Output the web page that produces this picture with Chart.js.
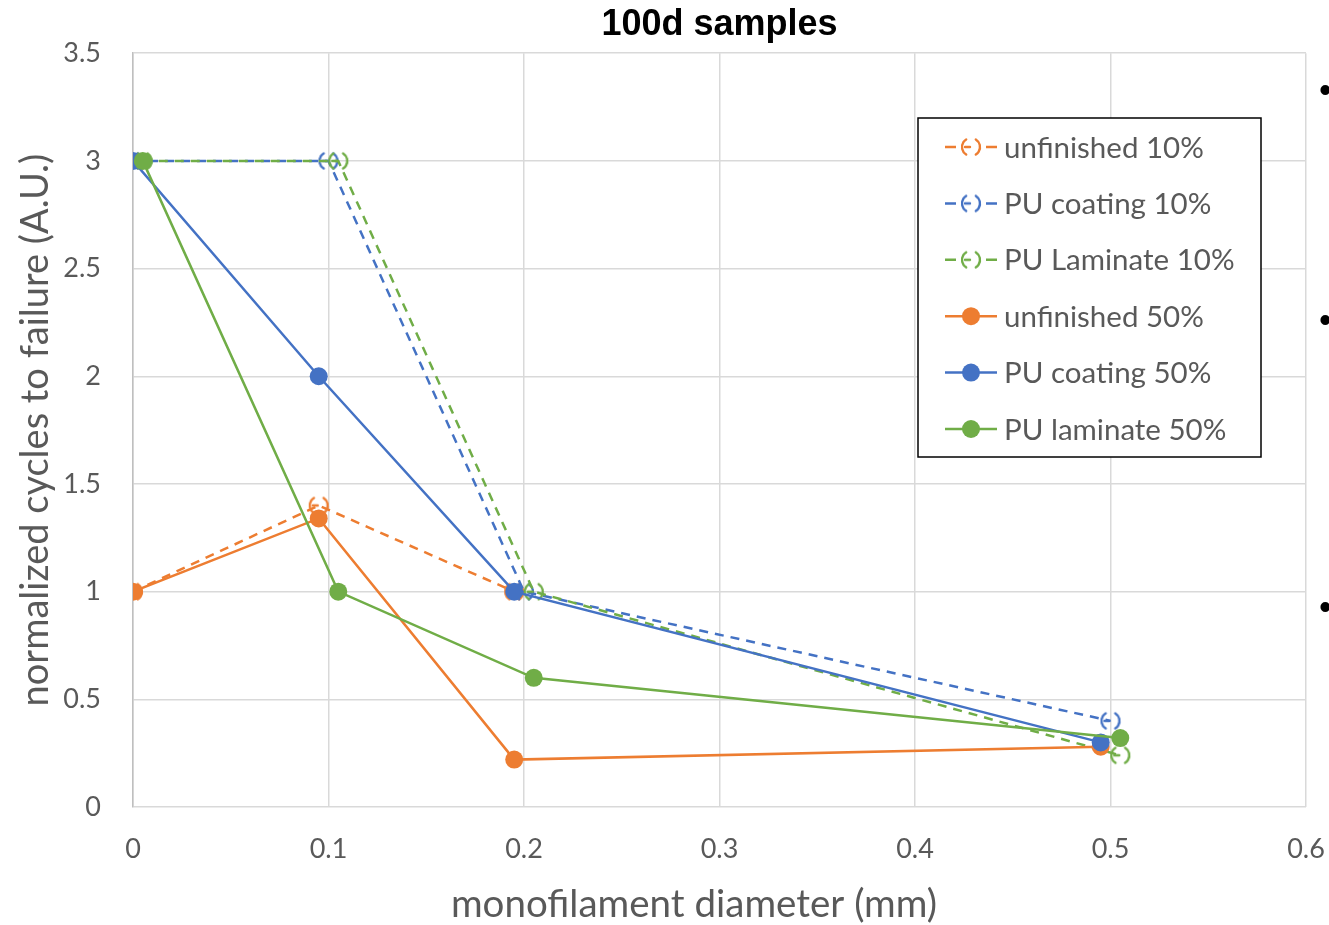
<!DOCTYPE html>
<html>
<head>
<meta charset="utf-8">
<script src="https://cdn.jsdelivr.net/npm/chart.js@4"></script>
<style>
  body { margin: 0; background: #fff; }
  #wrap { position: relative; width: 1329px; height: 925px; overflow: hidden; }
  .dot { position: absolute; left: 1319px; font: 36px "Liberation Sans", sans-serif; color: #000; line-height: 36px; }
</style>
</head>
<body>
<div id="wrap">
  <canvas id="chart" width="1329" height="925"></canvas>
  <span class="dot" style="top:72px">•</span>
  <span class="dot" style="top:302px">•</span>
  <span class="dot" style="top:589px">•</span>
</div>
<script>
// ================= DATA =================
const xTicks = [0, 0.1, 0.2, 0.3, 0.4, 0.5, 0.6];
const yTicks = [0, 0.5, 1, 1.5, 2, 2.5, 3, 3.5];
const xTitle = "monofilament diameter (mm)";

const seriesNames = [
    "unfinished 10%", "PU coating 10%", "PU Laminate 10%",
    "unfinished 50%", "PU coating 50%", "PU laminate 50%"
];

const unf10X = [0, 0.095, 0.195];
const unf10Y = [1, 1.4, 1.0];
const coat10X = [0, 0.1, 0.2, 0.5];
const coat10Y = [3, 3, 1.0, 0.4];
const lam10X = [0.005, 0.105, 0.205, 0.505];
const lam10Y = [3, 3, 1.0, 0.24];

const unf50X = [0, 0.095, 0.195, 0.495];
const unf50Y = [1, 1.34, 0.22, 0.28];
const coat50X = [0, 0.095, 0.195, 0.495];
const coat50Y = [3, 2, 1, 0.3];
const lam50X = [0.005, 0.105, 0.205, 0.505];
const lam50Y = [3, 1, 0.6, 0.32];

const ORANGE = "#ED7D31";
const BLUE = "#4472C4";
const GREEN = "#70AD47";

// ================= HELPERS =================
function pts(xs, ys) {
    return xs.map((x, i) => ({ x: x, y: ys[i] }));
}

// "( )" bracket style marker used by the dashed series
function bracketMarker(color) {
    const c = document.createElement("canvas");
    c.width = 24; c.height = 26;
    const g = c.getContext("2d");
    g.strokeStyle = color;
    g.lineWidth = 2.4;
    g.lineCap = "round";
    g.beginPath();
    g.arc(12, 13, 9, Math.PI * 0.68, Math.PI * 1.32);
    g.stroke();
    g.beginPath();
    g.arc(12, 13, 9, -Math.PI * 0.32, Math.PI * 0.32);
    g.stroke();
    g.beginPath();
    g.moveTo(6, 13); g.lineTo(11, 13);
    g.stroke();
    return c;
}

function dashedSet(i, xs, ys, color) {
    return {
        label: seriesNames[i],
        data: pts(xs, ys),
        showLine: true,
        borderColor: color,
        backgroundColor: color,
        borderWidth: 2.5,
        borderDash: [9, 7],
        pointStyle: bracketMarker(color),
        pointRadius: 9,
        order: 6 - i
    };
}

function solidSet(i, xs, ys, color) {
    return {
        label: seriesNames[i],
        data: pts(xs, ys),
        showLine: true,
        borderColor: color,
        backgroundColor: color,
        borderWidth: 2.5,
        pointStyle: "circle",
        pointRadius: 9,
        pointBorderWidth: 0,
        order: 6 - i
    };
}

// ================= LEGEND BOX + X TITLE =================
const legendBox = {
    id: "legendBox",
    afterDraw(chart) {
        const ctx = chart.ctx;
        const x0 = 918, y0 = 118, w = 343, h = 339;
        ctx.save();

        // x axis title, sits a bit left of the plot centre like the original
        ctx.fillStyle = "#595959";
        ctx.font = "38.5px Lato";
        ctx.textAlign = "center";
        ctx.textBaseline = "middle";
        ctx.fillText(xTitle, 694, 905);

        ctx.fillStyle = "#fff";
        ctx.fillRect(x0, y0, w, h);
        ctx.strokeStyle = "#000";
        ctx.lineWidth = 1.5;
        ctx.strokeRect(x0, y0, w, h);

        chart.data.datasets.forEach((ds, i) => {
            const cy = 147 + i * 56.4;
            ctx.strokeStyle = ds.borderColor;
            ctx.lineWidth = 2.5;
            ctx.beginPath();
            if (ds.borderDash) {
                ctx.moveTo(945, cy); ctx.lineTo(956, cy);
                ctx.moveTo(986, cy); ctx.lineTo(997, cy);
            } else {
                ctx.moveTo(945, cy); ctx.lineTo(997, cy);
            }
            ctx.stroke();
            if (ds.pointStyle === "circle") {
                ctx.fillStyle = ds.backgroundColor;
                ctx.beginPath();
                ctx.arc(971, cy, 9, 0, Math.PI * 2);
                ctx.fill();
            } else {
                ctx.drawImage(ds.pointStyle, 959, cy - 13);
            }
            ctx.fillStyle = "#595959";
            ctx.font = "29.5px Lato";
            ctx.textBaseline = "middle";
            ctx.textAlign = "left";
            ctx.fillText(ds.label, 1004, cy + 1);
        });
        ctx.restore();
    }
};

// ================= CHART =================
const chart = new Chart(document.getElementById("chart"), {
    type: "scatter",
    data: {
        datasets: [
            dashedSet(0, unf10X, unf10Y, ORANGE),
            dashedSet(1, coat10X, coat10Y, BLUE),
            dashedSet(2, lam10X, lam10Y, GREEN),
            solidSet(3, unf50X, unf50Y, ORANGE),
            solidSet(4, coat50X, coat50Y, BLUE),
            solidSet(5, lam50X, lam50Y, GREEN)
        ]
    },
    options: {
        responsive: false,
        animation: false,
        layout: { padding: { left: 0, right: 23, top: 0, bottom: 0 } },
        plugins: {
            legend: { display: false },
            tooltip: { enabled: false },
            title: {
                display: true,
                fullSize: false,
                text: "100d samples",
                color: "#000",
                font: { family: "Liberation Sans", size: 36, weight: "bold" },
                padding: { top: 3, bottom: 7 }
            }
        },
        scales: {
            x: {
                type: "linear",
                min: 0, max: 0.6,
                afterBuildTicks: s => { s.ticks = xTicks.map(v => ({ value: v })); },
                afterFit: s => { s.height = 118; s.paddingLeft = 0; s.paddingRight = 0; },
                grid: { color: "#d9d9d9", lineWidth: 1.5, drawTicks: false },
                border: { display: false },
                ticks: {
                    color: "#595959",
                    padding: 26,
                    font: { family: "Lato", size: 27 },
                    callback: v => String(v)
                },
                title: { display: false }
            },
            y: {
                type: "linear",
                min: 0, max: 3.5,
                afterBuildTicks: s => { s.ticks = yTicks.map(v => ({ value: v })); },
                afterFit: s => { s.width = 133; },
                grid: { color: "#d9d9d9", lineWidth: 1.5, drawTicks: false },
                border: { display: true, color: "#bfbfbf", width: 1.5 },
                ticks: {
                    color: "#595959",
                    padding: 32,
                    font: { family: "Lato", size: 27 },
                    callback: v => String(v)
                },
                title: {
                    display: true,
                    text: "normalized cycles to failure (A.U.)",
                    color: "#595959",
                    font: { family: "Lato", size: 38 },
                    padding: { top: 13, bottom: 0 }
                }
            }
        }
    },
    plugins: [legendBox]
});
</script>
</body>
</html>
